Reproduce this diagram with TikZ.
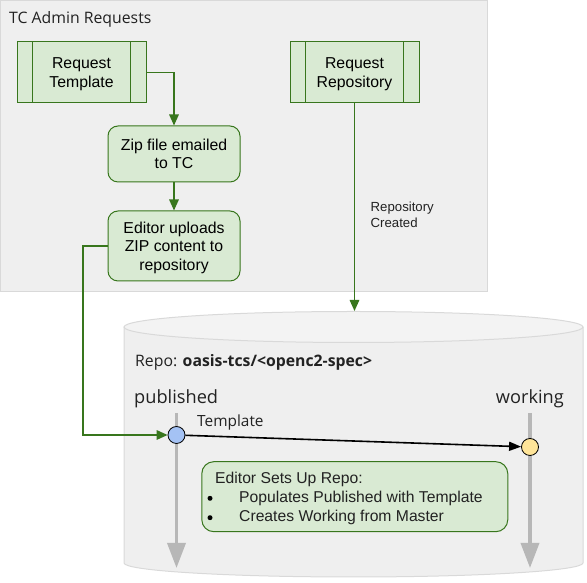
\documentclass[tikz,border=0pt]{standalone}
\usepackage{fontspec}
\setmainfont{Liberation Sans}
\newfontfamily\opensans{Open Sans}
\usetikzlibrary{arrows.meta}
\definecolor{gfill}{HTML}{D9EAD3}
\definecolor{gline}{HTML}{38761D}
\definecolor{panel}{HTML}{EFEFEF}
\definecolor{cyltopc}{HTML}{F3F3F3}
\definecolor{panelline}{HTML}{D9D9D9}
\definecolor{branch}{HTML}{B7B7B7}
\definecolor{bluec}{HTML}{A4C2F4}
\definecolor{yellowc}{HTML}{FFE599}
\definecolor{ink}{HTML}{222222}
\newcommand\boxtext[1]{\raisebox{-2pt}[\height][\depth]{\begin{tabular}{@{}c@{}}#1\end{tabular}}}
\begin{document}
\begin{tikzpicture}[x=1pt,y=1pt,
  proc/.style={draw=gline, fill=gfill, line width=1pt, minimum width=129pt, minimum height=61pt,
    inner sep=0pt, font=\fontsize{15.8}{18.4}\selectfont},
  rbox/.style={draw=gline, fill=gfill, line width=1pt, rounded corners=10pt, minimum width=132pt,
    inner sep=0pt, font=\fontsize{15.8}{18.4}\selectfont},
  flow/.style={draw=gline, line width=1.6pt, -{Triangle[length=11pt,width=9.5pt]}},
  txt/.style={inner sep=0pt, text=ink},
  branchline/.style={draw=branch, line width=3.5pt, -{Triangle[length=25pt,width=18pt]}},
  commit/.style={circle, draw=black, line width=0.8pt, minimum size=17pt, inner sep=0pt},
  bullet/.style={circle, fill=black, minimum size=5pt, inner sep=0pt},
]
\useasboundingbox (0,0) rectangle (587,583);
% admin panel
\node[fill=panel, draw=panelline, line width=1pt, minimum width=487pt, minimum height=291pt,
  anchor=north west, inner sep=0pt] (panel) at (0,583) {};
\node[txt, anchor=base west, font=\opensans\fontsize{15.8}{18}\selectfont] (title) at (9,559) {TC Admin Requests};

\node[proc] (rt) at (81.5,510.5) {\boxtext{Request\\Template}};
\draw[gline, line width=1pt] ([xshift=16pt]rt.north west) -- ([xshift=16pt]rt.south west)
  ([xshift=-16pt]rt.north east) -- ([xshift=-16pt]rt.south east);
\node[proc] (rr) at (354.5,510.5) {\boxtext{Request\\Repository}};
\draw[gline, line width=1pt] ([xshift=16pt]rr.north west) -- ([xshift=16pt]rr.south west)
  ([xshift=-16pt]rr.north east) -- ([xshift=-16pt]rr.south east);

\node[rbox, minimum height=56pt] (zip) at (174,429) {\boxtext{Zip file emailed\\to TC}};
\node[rbox, minimum height=70pt] (eu) at (174,337) {\boxtext{Editor uploads\\ZIP content to\\repository}};

% cylinder
\fill[panel] (124,256) -- (124,20) arc[start angle=180,end angle=360,x radius=229.5,y radius=14] -- (583,256) -- cycle;
\draw[panelline, line width=1pt] (124,256) -- (124,20) arc[start angle=180,end angle=360,x radius=229.5,y radius=14] -- (583,256);
\draw[panelline, line width=1pt, fill=cyltopc] (353.5,256) ellipse[x radius=229.5, y radius=15.5];
\coordinate (cyltop) at (354.5,272);

\node[txt, anchor=base west, font=\opensans\fontsize{15.8}{18}\selectfont] (repo) at (135,216)
  {Repo: \textbf{oasis-tcs/<openc2-spec>}};
\node[txt, anchor=base west, font=\opensans\fontsize{18.2}{22}\selectfont] (pub) at (134,179) {published};
\node[txt, anchor=base east, font=\opensans\fontsize{18.2}{22}\selectfont] (work) at (564,179) {working};

\coordinate (pubtop) at (176.5,170); \coordinate (pubend) at (176.5,15);
\coordinate (worktop) at (530,170); \coordinate (workend) at (530,15);
\draw[branchline] (pubtop) -- (pubend);
\draw[branchline] (worktop) -- (workend);

\node[commit, fill=bluec] (pc) at (176.5,148) {};
\node[commit, fill=yellowc] (wc) at (530,136) {};
\draw[black, line width=1.6pt, -{Triangle[length=12pt,width=9pt]}] (pc) -- (wc);
\node[txt, anchor=base west, font=\opensans\fontsize{15.4}{18}\selectfont] (tpl) at (197,156) {Template};

\node[draw=gline, fill=gfill, rounded corners=12pt, line width=1pt, minimum width=306pt,
  minimum height=70pt, inner sep=0pt] (setup) at (354.8,86.3) {};
\node[txt, anchor=base west, font=\fontsize{15.7}{18}\selectfont] (s0) at (215,99) {Editor Sets Up Repo:};
\node[txt, anchor=base west, font=\fontsize{15.7}{18}\selectfont] (s1) at (239,80.3) {Populates Published with Template};
\node[txt, anchor=base west, font=\fontsize{15.7}{18}\selectfont] (s2) at (239,61.3) {Creates Working from Master};
\node[bullet] (b1) at (210,84.7) {};
\node[bullet] (b2) at (210,65.3) {};

% connectors
\draw[flow] (rt.east) -| (zip.north);
\draw[flow] (zip) -- (eu);
\coordinate (lft) at (83,148);
\draw[flow] (eu.west) -| (lft) -- (pc.west);
\draw[flow] (rr.south) -- (cyltop);
\node[txt, anchor=west, align=left, font=\fontsize{13.2}{15.5}\selectfont] (created) at (370.5,368) {Repository\\Created};
\end{tikzpicture}
\end{document}
